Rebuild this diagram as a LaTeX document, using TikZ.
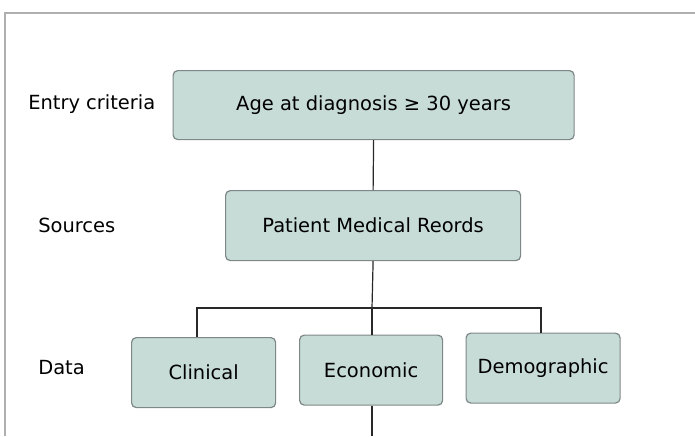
\documentclass[tikz,border=0pt]{standalone}
\usepackage{fontspec}
\setmainfont{DejaVu Sans}
\usepackage{tikz}

\tikzset{
  stagebox/.style={draw={rgb,255:red,125;green,135;blue,135},line width=0.9pt,
    fill={rgb,255:red,199;green,219;blue,215},rounded corners=3.5pt,
    inner sep=0pt,anchor=north west,font=\fontsize{14.6}{17}\selectfont},
  rowlabel/.style={anchor=west,inner sep=0pt,font=\fontsize{14.6}{17}\selectfont},
  link/.style={draw={rgb,255:red,40;green,40;blue,40},line width=0.9pt}
}

\begin{document}
\begin{tikzpicture}[x=0.75pt,y=0.75pt,yscale=-1,xscale=1]
        \useasboundingbox (0,0) rectangle (695,436);

        % Frame
        \draw [color={rgb, 255:red, 175; green, 175; blue, 175 }][line width=1.5] (5,436) -- (5,12.5) -- (695,12.5) ;

        % Boxes
        \node [stagebox,minimum width=300.75pt,minimum height=51.75pt] (entry) at (172.5,70) {Age at diagnosis ≥ 30 years};
        \node [stagebox,minimum width=221.25pt,minimum height=52.5pt] (records) at (225,190) {Patient Medical Reords};
        \node [stagebox,minimum width=108pt,minimum height=52.5pt] (clinical) at (131,337) {Clinical};
        \node [stagebox,minimum width=107.25pt,minimum height=52.5pt] (economic) at (299,334.5) {Economic};
        \node [stagebox,minimum width=115.5pt,minimum height=52.5pt] (demographic) at (465.5,332.5) {Demographic};

        % Row labels
        \node [rowlabel] (lblentry) at (28,104) {Entry criteria};
        \node [rowlabel] (lblsources) at (38,225) {Sources};
        \node [rowlabel] (lbldata) at (38,368) {Data};

        % Connectors
        \coordinate (split) at (372,308);
        \coordinate (bottomend) at (372,436);
        \draw [link] (entry.south) -- (records.north) ;
        \draw [link] (records.south) -- (split) ;
        \draw [link] (clinical.north -| 197,0) |- (split) -| (demographic.north -| 541,0) ;
        \draw [link] (split) -- (economic.north -| split) ;
        \draw [link] (economic.south -| bottomend) -- (bottomend) ;

\end{tikzpicture}
\end{document}
